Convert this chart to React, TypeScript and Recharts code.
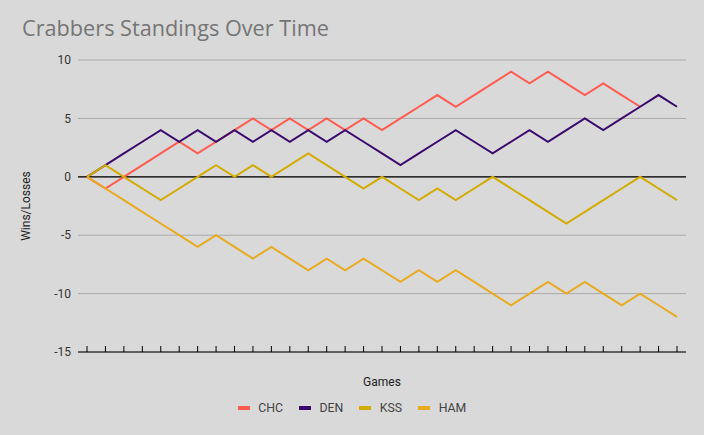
import React from 'react';
import { LineChart, Line, XAxis, YAxis, CartesianGrid, ReferenceLine, Legend } from 'recharts';

const games = Array.from({ length: 33 }, (_, i) => i + 1);
const CHC = [0, -1, 0, 1, 2, 3, 2, 3, 4, 5, 4, 5, 4, 5, 4, 5, 4, 5, 6, 7, 6, 7, 8, 9, 8, 9, 8, 7, 8, 7, 6];
const DEN = [0, 1, 2, 3, 4, 3, 4, 3, 4, 3, 4, 3, 4, 3, 4, 3, 2, 1, 2, 3, 4, 3, 2, 3, 4, 3, 4, 5, 4, 5, 6, 7, 6];
const KSS = [0, 1, 0, -1, -2, -1, 0, 1, 0, 1, 0, 1, 2, 1, 0, -1, 0, -1, -2, -1, -2, -1, 0, -1, -2, -3, -4, -3, -2, -1, 0, -1, -2];
const HAM = [0, -1, -2, -3, -4, -5, -6, -5, -6, -7, -6, -7, -8, -7, -8, -7, -8, -9, -8, -9, -8, -9, -10, -11, -10, -9, -10, -9, -10, -11, -10, -11, -12];
const yTicks = [-15, -10, -5, 0, 5, 10];

const series = [
  { key: 'CHC', color: '#ff5b4f' },
  { key: 'DEN', color: '#3a0a6e' },
  { key: 'KSS', color: '#d4ab00' },
  { key: 'HAM', color: '#eaaa1e' },
];

const data = games.map((g, i) => ({
  game: g,
  CHC: i < CHC.length ? CHC[i] : null,
  DEN: DEN[i],
  KSS: KSS[i],
  HAM: HAM[i],
}));

const UpTick = (props: any) => {
  const { x, y } = props;
  return <line x1={x} x2={x} y1={y} y2={y - 6} stroke="#000" strokeWidth={1} />;
};

const LegendContent = () => (
  <div style={{ display: 'flex', justifyContent: 'center', alignItems: 'center', height: 20, fontFamily: 'Roboto', fontSize: 12.3, color: '#444' }}>
    {series.map((s) => (
      <div key={s.key} style={{ display: 'flex', alignItems: 'center', margin: '0 8px' }}>
        <div style={{ width: 12, height: 4, background: s.color, marginRight: 8.5 }} />
        <span>{s.key}</span>
      </div>
    ))}
  </div>
);

export default function App() {
  return (
    <div style={{ position: 'absolute', left: 0, top: 0, width: 704, height: 435, background: '#d9d9d9' }}>
      <div style={{ position: 'absolute', left: 22, top: 13, fontFamily: 'Open Sans', fontSize: 21.7, color: '#757575', whiteSpace: 'nowrap', lineHeight: 'normal' }}>
        Crabbers Standings Over Time
      </div>
      <LineChart width={704} height={435} data={data} margin={{ top: 60, right: 18, bottom: 23, left: 0 }}>
        <CartesianGrid horizontal={true} vertical={false} stroke="#aaaaaa" />
        <XAxis
          dataKey="game"
          type="category"
          interval={0}
          padding={{ left: 9, right: 9 }}
          height={40}
          tickSize={0}
          tickMargin={0}
          tickLine={false}
          tick={<UpTick />}
          axisLine={{ stroke: '#000', strokeWidth: 1.2 }}
          label={{ value: 'Games', position: 'insideBottom', offset: 6, style: { fontFamily: 'Roboto', fontSize: 12, fill: '#222' } }}
        />
        <YAxis
          width={78}
          domain={[-15, 10]}
          ticks={yTicks}
          interval={0}
          axisLine={false}
          tickLine={false}
          tickSize={0}
          tickMargin={7}
          tick={{ fontFamily: 'Roboto', fontSize: 12, fill: '#333' }}
          label={{ value: 'Wins/Losses', angle: -90, position: 'insideLeft', offset: 26, style: { textAnchor: 'middle', fontFamily: 'Roboto', fontSize: 12, fill: '#222' } }}
        />
        <ReferenceLine y={0} stroke="#000" strokeWidth={1.2} />
        <Legend
          verticalAlign="bottom"
          height={20}
          wrapperStyle={{ left: 0, width: 704, top: 398, bottom: 'auto' }}
          content={<LegendContent />}
        />
        {series.map((s) => (
          <Line
            key={s.key}
            type="linear"
            dataKey={s.key}
            stroke={s.color}
            strokeWidth={2}
            dot={false}
            activeDot={false}
            isAnimationActive={false}
          />
        ))}
      </LineChart>
    </div>
  );
}
